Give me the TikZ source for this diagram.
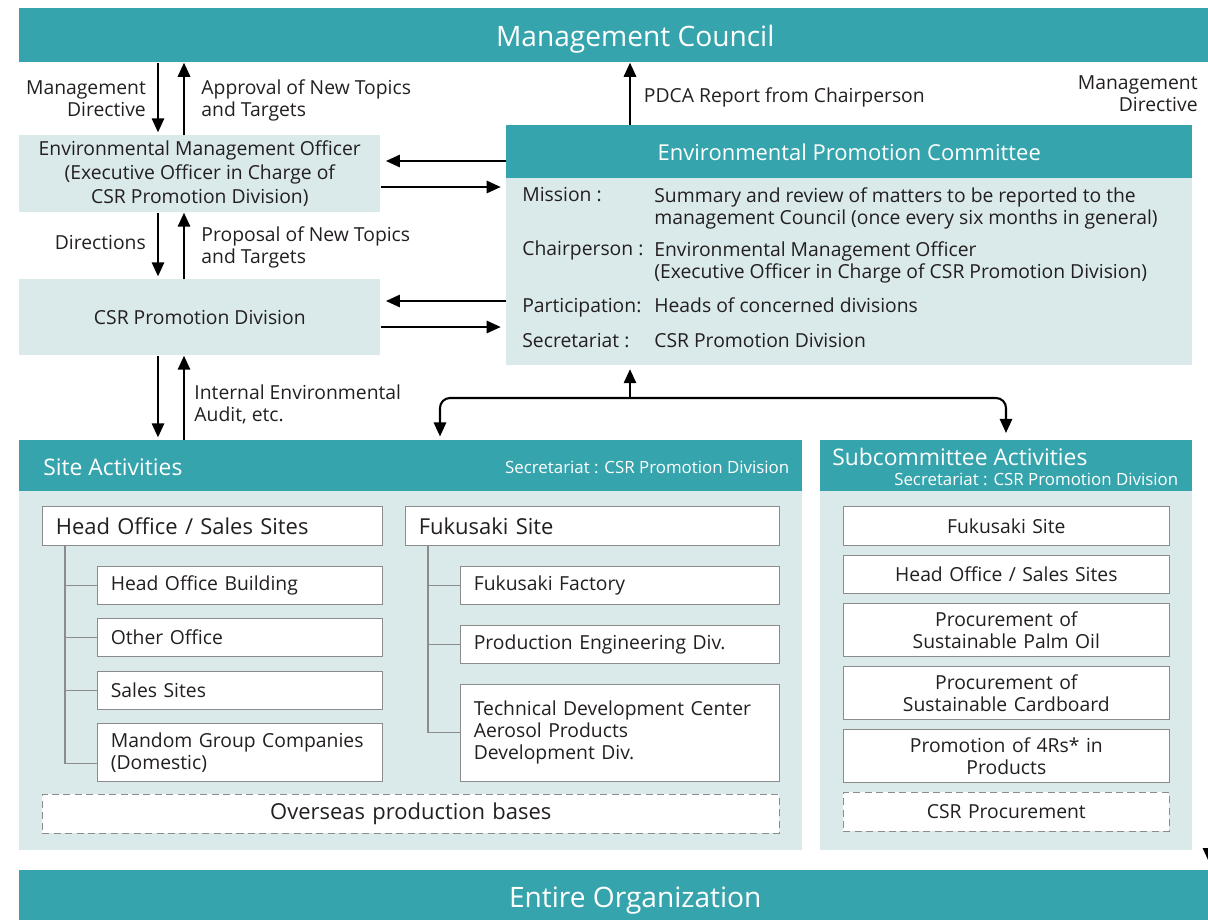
\documentclass[tikz,border=0pt]{standalone}
\usepackage{fontspec}
\setmainfont{Open Sans}
\usetikzlibrary{arrows.meta}

\definecolor{teal2}{HTML}{36A4AD}
\definecolor{pale}{HTML}{DAE9EA}
\definecolor{frame}{HTML}{8C8C8C}
\definecolor{ink}{HTML}{231F20}

\begin{document}
\begin{tikzpicture}[x=0.02cm, y=-0.02cm, color=ink,
  body/.style={font=\fontsize{11}{12.5}\selectfont},
  arr/.style={-{Triangle[width=7pt,length=8pt]}, line width=1.2pt, draw=black},
  bar/.style={fill=teal2, text=white, anchor=north west, inner sep=0},
  pane/.style={fill=pale, anchor=north west, inner sep=0, align=center, body},
  leaf/.style={draw=frame, fill=white, anchor=north west, inner xsep=0.27cm, inner ysep=0, align=left, body},
  mid/.style={leaf, align=center},
  ghost/.style={leaf, align=center, dash pattern=on 4pt off 2.5pt},
  twig/.style={draw=frame, line width=0.6pt},
  small/.style={text=white, inner sep=0, font=\fontsize{9.6}{11}\selectfont}]
  \useasboundingbox (0,0) rectangle (1208,920);

  % bars at top and bottom
  \node[bar, minimum width=24.64cm, minimum height=1.08cm, text depth=0pt, font=\fontsize{16}{19}\selectfont] (council) at (19,8) {Management Council};
  \node[bar, minimum width=24.64cm, minimum height=1.08cm, text depth=0pt, font=\fontsize{16}{19}\selectfont] (entire) at (19,870) {Entire Organization};

  % left column
  \node[pane, minimum width=7.22cm, minimum height=1.54cm, font=\fontsize{11}{13.5}\selectfont] (emo) at (19,135)
    {Environmental Management Officer\\(Executive Officer in Charge of\\CSR Promotion Division)};
  \node[pane, minimum width=7.22cm, minimum height=1.52cm] (csr) at (19,279) {CSR Promotion Division};

  % committee
  \node[pane, minimum width=13.72cm, minimum height=4.8cm] (epc) at (506,125) {};
  \node[bar, minimum width=13.72cm, minimum height=1.06cm, font=\fontsize{12.5}{15}\selectfont] (epchead) at (506,125) {Environmental Promotion Committee};
  \node[body, anchor=base west, inner sep=0] (misL) at (522,201) {Mission :};
  \node[body, anchor=west, inner sep=0, align=left] (misT) at (654,208)
    {Summary and review of matters to be reported to the\\management Council (once every six months in general)};
  \node[body, anchor=base west, inner sep=0] (chaL) at (522,255) {Chairperson :};
  \node[body, anchor=west, inner sep=0, align=left] (chaT) at (654,262)
    {Environmental Management Officer\\(Executive Officer in Charge of CSR Promotion Division)};
  \node[body, anchor=base west, inner sep=0] (parL) at (522,312) {Participation:};
  \node[body, anchor=base west, inner sep=0] (parT) at (654,312) {Heads of concerned divisions};
  \node[body, anchor=base west, inner sep=0] (secL) at (522,347) {Secretariat :};
  \node[body, anchor=base west, inner sep=0] (secT) at (654,347) {CSR Promotion Division};

  % site activities
  \node[pane, minimum width=15.66cm, minimum height=8.2cm] (site) at (19,440) {};
  \node[bar, minimum width=15.66cm, minimum height=1.02cm] (sitehead) at (19,440) {};
  \node[anchor=west, text=white, inner sep=0, font=\fontsize{13}{15}\selectfont] (sitetitle) at ([xshift=0.48cm, yshift=-0.02cm]sitehead.west) {Site Activities};
  \node[small, anchor=east] (sitesec) at ([xshift=-0.26cm, yshift=-0.04cm]sitehead.east) {Secretariat : CSR Promotion Division};

  \node[leaf, text width=6.26cm, minimum height=0.78cm, font=\fontsize{12.5}{15}\selectfont] (hoss) at (42,506) {Head Office / Sales Sites};
  \node[leaf, text width=5.16cm, minimum height=0.76cm] (hob) at (97,566) {Head Office Building};
  \node[leaf, text width=5.16cm, minimum height=0.76cm] (oo) at (97,618) {Other Office};
  \node[leaf, text width=5.16cm, minimum height=0.76cm] (ss) at (97,671) {Sales Sites};
  \node[leaf, text width=5.16cm, minimum height=1.16cm] (mgc) at (97,723) {Mandom Group Companies\\(Domestic)};

  \node[leaf, text width=6.94cm, minimum height=0.78cm, font=\fontsize{12.5}{15}\selectfont] (fks) at (405,506) {Fukusaki Site};
  \node[leaf, text width=5.84cm, minimum height=0.76cm] (ff) at (460,566) {Fukusaki Factory};
  \node[leaf, text width=5.84cm, minimum height=0.76cm] (pe) at (460,625) {Production Engineering Div.};
  \node[leaf, text width=5.84cm, minimum height=1.94cm] (tdc) at (460,684) {Technical Development Center\\Aerosol Products\\Development Div.};

  \node[ghost, text width=14.2cm, minimum height=0.78cm, font=\fontsize{12.5}{15}\selectfont] (overseas) at (42,794) {Overseas production bases};

  % tree lines
  \coordinate (trunkL) at (65,0);
  \coordinate (trunkR) at (428,0);
  \draw[twig] (trunkL |- hoss.south) |- ([yshift=-0.22cm]mgc.west);
  \foreach \n in {hob, oo, ss}
    \draw[twig] (trunkL |- \n.west) -- (\n.west);
  \draw[twig] (trunkR |- fks.south) |- (tdc.west);
  \foreach \n in {ff, pe}
    \draw[twig] (trunkR |- \n.west) -- (\n.west);

  % subcommittee activities
  \node[pane, minimum width=7.44cm, minimum height=8.2cm] (subc) at (820,440) {};
  \node[bar, minimum width=7.44cm, minimum height=1.02cm] (subchead) at (820,440) {};
  \node[anchor=west, text=white, inner sep=0, font=\fontsize{13}{15}\selectfont] (subctitle) at ([xshift=0.24cm, yshift=0.17cm]subchead.west) {Subcommittee Activities};
  \node[small, anchor=east] (subcsec) at ([xshift=-0.28cm, yshift=-0.27cm]subchead.east) {Secretariat : CSR Promotion Division};

  \node[mid, text width=5.98cm, minimum height=0.78cm] (sc1) at (843,506) {Fukusaki Site};
  \node[mid, text width=5.98cm, minimum height=0.76cm] (sc2) at (843,555) {Head Office / Sales Sites};
  \node[mid, text width=5.98cm, minimum height=1.06cm] (sc3) at (843,603) {Procurement of\\Sustainable Palm Oil};
  \node[mid, text width=5.98cm, minimum height=1.06cm] (sc4) at (843,666) {Procurement of\\Sustainable Cardboard};
  \node[mid, text width=5.98cm, minimum height=1.06cm] (sc5) at (843,729) {Promotion of 4Rs* in\\Products};
  \node[ghost, text width=5.98cm, minimum height=0.78cm] (sc6) at (843,792) {CSR Procurement};

  % vertical arrows on the left
  \coordinate (laneD) at (158,0);
  \coordinate (laneU) at (184,0);
  \draw[arr, shorten >=1.5pt] (laneD |- council.south) -- node[left=3pt, body, align=right] (lblDirA) {Management\\Directive} (laneD |- emo.north);
  \draw[arr] (laneU |- emo.north) -- node[right=6pt, yshift=-0.04cm, body, align=left] (lblApp) {Approval of New Topics\\and Targets} (laneU |- council.south);
  \draw[arr, shorten >=1.5pt] (laneD |- emo.south) -- node[left=3pt, yshift=0.06cm, body] (lblDir) {Directions} (laneD |- csr.north);
  \draw[arr] (laneU |- csr.north) -- node[right=6pt, yshift=-0.03cm, body, align=left] (lblProp) {Proposal of New Topics\\and Targets} (laneU |- emo.south);
  \draw[arr, shorten >=1.5pt] (laneD |- csr.south) -- (laneD |- sitehead.north);
  \draw[arr] (laneU |- sitehead.north) -- node[right=2pt, yshift=-0.14cm, body, align=left] (lblAudit) {Internal Environmental\\Audit, etc.} (laneU |- csr.south);

  % horizontal arrows
  \coordinate (rowA) at (0,161);
  \coordinate (rowB) at (0,187);
  \coordinate (rowC) at (0,301);
  \coordinate (rowD) at (0,327);
  \draw[arr, shorten >=3pt] (epc.west |- rowA) -- (emo.east |- rowA);
  \draw[arr, shorten >=3pt] (emo.east |- rowB) -- (epc.west |- rowB);
  \draw[arr, shorten >=3pt] (epc.west |- rowC) -- (csr.east |- rowC);
  \draw[arr, shorten >=3pt] (csr.east |- rowD) -- (epc.west |- rowD);

  % report and fork
  \coordinate (laneP) at (630,0);
  \draw[arr] (laneP |- epc.north) -- node[right=4pt, yshift=-0.08cm, body] (lblPdca) {PDCA Report from Chairperson} (laneP |- council.south);
  \coordinate (fork) at (630,398);
  \coordinate (forkL) at (440,0);
  \coordinate (forkR) at (1006,0);
  \draw[arr, shorten >=2pt] (fork) -- (laneP |- epc.south);
  \draw[arr, rounded corners=0.2cm, shorten >=2pt] (fork) -| (forkL |- sitehead.north);
  \draw[arr, rounded corners=0.2cm, shorten >=4pt] (fork) -| (forkR |- subchead.north);

  % right edge
  \coordinate (edge) at (1209,0);
  \draw[arr, shorten >=4.5pt] (edge |- council.south) -- (edge |- entire.north);
  \node[body, anchor=east, align=right, inner sep=0] (lblDirB) at (1198,94) {Management\\Directive};
\end{tikzpicture}
\end{document}
